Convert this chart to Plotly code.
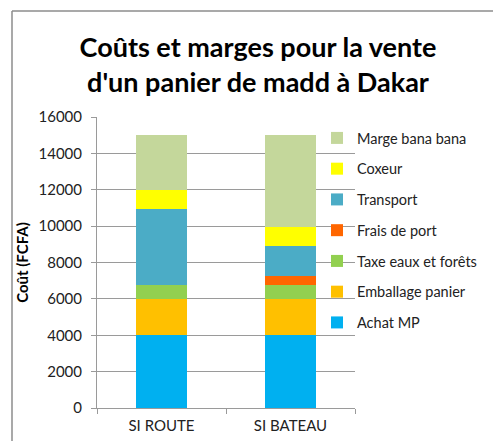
import plotly.graph_objects as go

categories = ["SI ROUTE", "SI BATEAU"]
series_names = ["Achat MP", "Emballage panier", "Taxe eaux et forêts", "Frais de port",
                "Transport", "Coxeur", "Marge bana bana"]
achat_mp = [4000, 4000]
emballage_panier = [2000, 2000]
taxe_eaux_forets = [750, 750]
frais_de_port = [0, 500]
transport = [4200, 1650]
coxeur = [1050, 1050]
marge_bana_bana = [3000, 5050]
series_values = [achat_mp, emballage_panier, taxe_eaux_forets, frais_de_port,
                 transport, coxeur, marge_bana_bana]
colors = ["#00B0F0", "#FFC000", "#92D050", "#FF6600", "#4BACC6", "#FFFF00", "#C4D79B"]
y_ticks = [0, 2000, 4000, 6000, 8000, 10000, 12000, 14000, 16000]

W, H = 493, 441
L, R, T, B = 97, 138, 117, 33
pw, ph = W - L - R, H - T - B

fig = go.Figure()
for i, (name, vals, col) in enumerate(zip(series_names, series_values, colors)):
    fig.add_trace(go.Bar(
        x=categories, y=vals, name=name, marker=dict(color=col, line=dict(width=0)),
        width=0.4, legendgroup=name, legendrank=1000 - i,
    ))

font = "Lato, 'Open Sans', sans-serif"
fig.update_layout(
    width=W, height=H,
    margin=dict(l=L, r=R, t=T, b=B, autoexpand=False),
    barmode="stack",
    paper_bgcolor="white", plot_bgcolor="white",
    font=dict(family=font, size=15, color="#222"),
    title=dict(
        text="<b>Coûts et marges pour la vente<br>d'un panier de madd à Dakar</b>",
        x=258 / W, xref="container", xanchor="center",
        y=1 - 57 / H, yref="container", yanchor="middle",
        font=dict(family=font, size=27, color="black"),
    ),
    xaxis=dict(
        showgrid=False, showline=True, linecolor="#9a9a9a", linewidth=1,
        ticks="outside", tickson="boundaries", ticklen=5, tickcolor="#9a9a9a",
        tickfont=dict(size=15, color="#222"), ticklabelstandoff=4, automargin=False,
    ),
    yaxis=dict(
        range=[0, 16000], tickvals=y_ticks, ticktext=[str(v) for v in y_ticks],
        showgrid=True, gridcolor="#9a9a9a", gridwidth=1,
        showline=True, linecolor="#9a9a9a", linewidth=1,
        ticks="outside", ticklen=5, tickcolor="#9a9a9a",
        tickfont=dict(size=15, color="#222"), zeroline=False, ticklabelstandoff=6,
        automargin=False,
        title=dict(text="<b>Coût (FCFA)</b>", font=dict(size=15, color="black"), standoff=6),
    ),
    legend=dict(
        x=(317 - L) / pw, xanchor="left", y=1 - (122 - T) / ph, yanchor="top",
        traceorder="grouped", tracegroupgap=8.9,
        font=dict(size=14.5, color="#222"), bgcolor="rgba(0,0,0,0)",
        itemwidth=30,
    ),
    shapes=[
        dict(type="line", xref="paper", yref="paper",
             x0=(12 - L) / pw, x1=(12 - L) / pw, y0=-B / ph - 0.01, y1=1 + (T - 11) / ph,
             line=dict(color="#8c8c8c", width=1.5)),
        dict(type="line", xref="paper", yref="paper",
             x0=(12 - L) / pw, x1=1 + R / pw + 0.01, y0=1 + (T - 11) / ph, y1=1 + (T - 11) / ph,
             line=dict(color="#8c8c8c", width=1.5)),
    ],
)

fig.write_html("out.html")
